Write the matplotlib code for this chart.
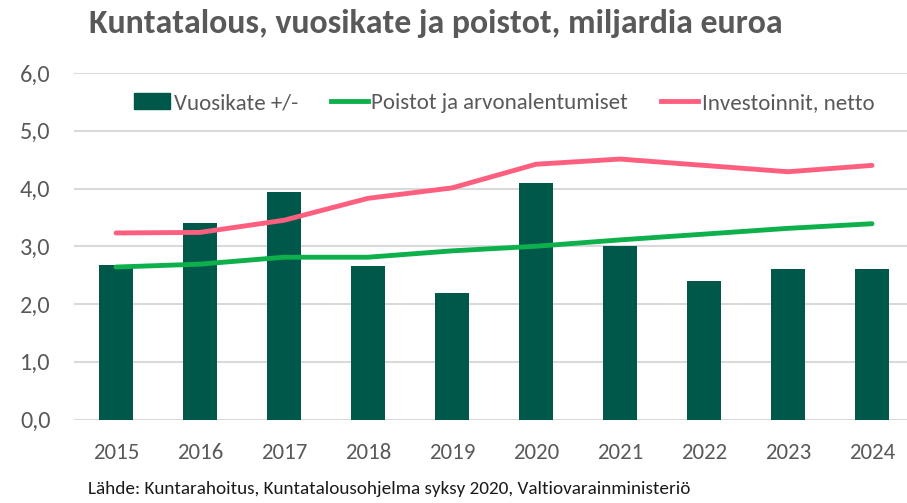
import matplotlib
matplotlib.use('Agg')
import numpy as np
from matplotlib import pyplot as plt
from matplotlib.lines import Line2D
from matplotlib.patches import Patch

years = ['2015', '2016', '2017', '2018', '2019', '2020', '2021', '2022', '2023', '2024']
vuosikate = [2.67, 3.40, 3.94, 2.66, 2.19, 4.10, 3.00, 2.39, 2.60, 2.60]
poistot = [2.64, 2.69, 2.81, 2.81, 2.92, 3.00, 3.11, 3.21, 3.31, 3.39]
investoinnit = [3.23, 3.24, 3.45, 3.83, 4.01, 4.42, 4.51, 4.40, 4.29, 4.40]
y_ticks = [0, 1, 2, 3, 4, 5, 6]

plt.rcParams['font.family'] = ['Carlito', 'DejaVu Sans']

bar_col = '#00584A'
green = '#0DB04B'
red = '#FF5F7E'
grey = '#595959'

fig = plt.figure(figsize=(9.07, 5.03), dpi=100)
ax = fig.add_axes([74 / 907, 1 - 419.5 / 503, 840 / 907, (419.5 - 73) / 503])

x = np.arange(len(years))
ax.bar(x, vuosikate, width=0.4, color=bar_col, zorder=2)
ax.plot(x, poistot, color=green, lw=3.5, solid_capstyle='round', zorder=3)
ax.plot(x, investoinnit, color=red, lw=3.5, solid_capstyle='round', zorder=3)

ax.set_xlim(-0.5, 9.5)
ax.set_ylim(0, 6)
ax.set_yticks(y_ticks)
ax.set_yticklabels([f'{v:.1f}'.replace('.', ',') for v in y_ticks])
ax.set_xticks(x)
ax.set_xticklabels(years)
ax.tick_params(length=0, colors=grey)
ax.tick_params(axis='y', pad=17, labelsize=17.5)
ax.tick_params(axis='x', pad=17, labelsize=16.5)
ax.grid(axis='y', color='#D9D9D9', lw=1.5, zorder=0)
for s in ax.spines.values():
    s.set_visible(False)

handles = [Patch(color=bar_col),
           Line2D([], [], color=green, lw=3.5),
           Line2D([], [], color=red, lw=3.5)]
labels = ['Vuosikate +/-', 'Poistot ja arvonalentumiset', 'Investoinnit, netto']
fig.legend(handles, labels, loc='center', bbox_to_anchor=(504 / 907, 1 - 103 / 503),
           ncol=3, frameon=False, fontsize=16.5, handlelength=1.6, handletextpad=0.15,
           columnspacing=1.45, labelcolor=grey)

fig.text(436 / 907, 1 - 23 / 503, 'Kuntatalous, vuosikate ja poistot, miljardia euroa',
         ha='center', va='center', fontsize=24.4, fontweight='bold', color=grey)
fig.text(88 / 907, 1 - 489 / 503,
         'Lähde: Kuntarahoitus, Kuntatalousohjelma syksy 2020, Valtiovarainministeriö',
         ha='left', va='center', fontsize=13.8, color='#1a1a1a')

fig.savefig('out.png', dpi=100)
